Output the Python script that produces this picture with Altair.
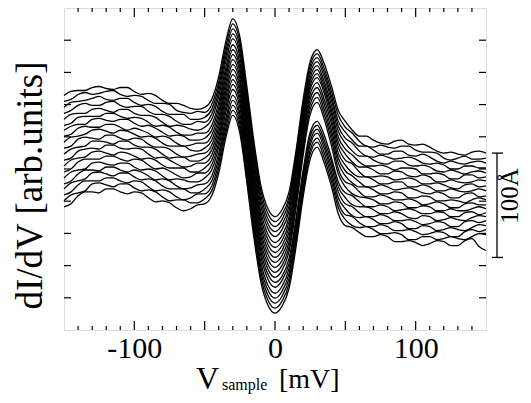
import altair as alt
import pandas as pd

v_sample = [-150, -140, -130, -120, -110, -100, -90, -80, -70, -60, -50, -45, -40, -35, -30,
            -25, -20, -15, -10, -5, 0, 5, 10, 15, 20, 25, 30, 35, 40, 45, 50,
            60, 70, 80, 90, 100, 110, 120, 130, 140, 150]

spectra = [
    [236,241,244,243,244,240,238,231,228,223,224,232,255,290,313,295,245,190,145,122,114,121,139,181,232,270,282,268,246,221,210,195,191,187,191,186,184,178,177,179,178],
    [230,237,237,240,237,236,231,228,221,218,219,227,250,285,308,290,240,185,140,117,109,116,134,177,227,266,278,263,241,216,204,190,184,184,185,181,179,173,173,172,173],
    [224,230,233,232,233,229,227,220,217,212,214,222,245,280,303,285,235,180,135,112,104,111,130,172,223,262,274,259,236,210,199,185,181,177,180,175,174,168,168,169,168],
    [218,226,226,229,226,225,220,217,210,207,209,217,240,275,298,280,230,175,130,107,99,106,125,167,219,258,270,255,232,205,193,180,174,174,173,172,167,166,162,165,163],
    [212,218,222,221,222,218,216,209,206,202,204,212,235,270,293,275,225,170,125,102,94,101,120,163,214,254,266,250,227,200,188,175,171,167,170,165,164,159,159,159,158],
    [206,214,215,218,215,214,209,206,199,196,198,206,229,264,287,269,219,164,119,96,88,95,114,158,210,250,262,246,222,194,182,169,165,164,163,162,157,156,152,156,154],
    [201,207,212,211,212,208,206,199,196,191,193,201,224,259,282,264,214,159,114,91,83,90,109,153,206,246,258,242,218,189,177,164,161,157,159,154,154,149,149,149,150],
    [195,203,204,207,204,203,198,195,188,186,188,196,219,254,277,259,209,154,109,86,78,85,104,148,201,242,254,238,213,184,171,159,154,154,152,151,147,146,142,147,145],
    [189,195,201,200,201,197,195,188,185,181,183,191,214,249,272,254,204,149,104,81,73,80,99,143,196,237,249,232,208,178,166,154,151,147,149,144,144,140,140,140,140],
    [183,192,193,196,193,193,187,184,177,175,178,186,209,244,267,249,199,144,99,76,68,75,94,138,191,232,244,227,202,173,160,149,144,144,142,141,137,137,133,138,135],
    [177,184,190,189,190,186,184,177,174,170,173,181,204,239,262,244,194,139,94,71,63,70,89,133,186,227,239,222,197,168,155,144,141,137,138,133,134,130,130,131,131],
    [171,180,183,186,183,183,177,174,167,165,168,176,199,234,257,239,189,134,89,66,58,65,84,128,181,222,234,217,192,162,149,139,134,134,131,130,127,127,123,128,126],
    [165,173,179,178,179,175,173,166,163,159,163,171,194,229,252,234,184,129,84,61,53,60,79,123,176,217,229,212,186,157,144,134,131,127,128,123,124,120,120,122,122],
    [159,169,172,175,172,172,166,163,156,154,158,166,189,224,247,229,179,124,79,56,48,54,72,113,161,199,210,196,174,149,138,129,124,124,121,120,117,118,114,119,118],
    [153,161,168,167,168,164,162,155,152,149,153,161,184,219,242,224,174,119,74,51,43,50,67,108,157,195,206,191,170,144,133,124,121,117,117,112,114,111,111,113,114],
    [147,157,161,164,161,161,155,152,145,143,147,155,178,213,236,218,168,113,68,45,37,44,62,103,153,190,202,187,165,139,127,118,114,114,110,109,107,108,104,110,110],
    [142,150,158,157,158,154,152,145,142,138,142,150,173,208,231,213,163,108,63,40,32,39,57,98,148,186,198,183,160,133,122,113,111,107,107,102,104,101,101,103,105],
    [136,146,150,153,150,150,144,141,134,133,137,145,168,203,226,208,158,103,58,35,27,34,52,93,143,181,193,178,155,128,116,108,104,104,100,99,97,98,94,101,101],
    [130,138,147,146,147,143,141,134,131,128,132,140,163,198,221,203,153,98,53,30,22,29,47,89,139,177,189,173,150,123,111,103,101,97,96,91,94,92,92,94,96],
    [124,135,139,142,139,139,133,130,123,122,127,135,158,193,216,198,148,93,48,25,17,24,42,84,134,172,184,168,145,117,105,98,94,94,89,88,87,89,85,92,80],
]

v_mid_left = [-145, -135, -125, -115, -105, -95, -85, -75, -65, -55]
mid_left = [
    [240,241,245,242,244,237,236,228,226,222],
    [232,239,238,241,235,235,228,227,219,220],
    [229,231,235,231,233,226,225,217,217,212],
    [221,228,226,230,224,225,217,215,207,210],
    [217,218,223,219,222,216,214,205,205,201],
    [208,215,215,218,213,213,205,204,196,198],
    [205,207,213,210,212,205,203,195,195,191],
    [197,205,204,207,201,201,194,193,185,188],
    [194,197,202,198,200,194,193,185,185,180],
    [185,194,192,196,191,192,184,182,174,177],
    [182,185,190,187,190,184,182,173,174,170],
    [173,182,182,186,182,182,173,171,164,168],
    [171,174,180,176,178,172,171,163,163,159],
    [162,172,172,175,170,171,162,160,153,158],
    [159,162,169,166,168,161,160,151,151,149],
    [150,161,160,164,159,159,151,150,142,146],
    [148,152,159,155,158,151,150,142,142,138],
    [139,150,150,153,148,149,140,139,131,137],
    [136,140,148,144,147,140,139,130,131,128],
    [127,139,138,142,137,138,129,128,120,126],
]

v_mid_right = [55, 65, 75, 85, 95, 105, 115, 125, 135, 145]
mid_right = [
    [201,195,188,190,187,187,180,179,176,180],
    [198,185,186,183,185,179,178,171,175,172],
    [191,185,177,180,176,177,170,170,167,170],
    [188,175,176,172,174,168,168,162,165,163],
    [180,175,168,170,166,166,160,161,157,160],
    [176,165,166,161,163,157,158,152,156,153],
    [169,164,157,160,155,156,149,151,148,151],
    [167,154,155,151,153,147,148,143,146,144],
    [158,154,147,149,144,146,140,142,139,142],
    [155,144,146,141,143,138,139,133,137,134],
    [148,144,137,139,133,135,130,131,128,133],
    [146,134,136,131,132,126,129,123,127,126],
    [137,133,127,129,123,125,120,122,120,124],
    [135,124,126,120,122,117,119,114,118,116],
    [126,124,117,119,113,115,110,113,110,115],
    [124,114,116,110,111,106,109,104,109,108],
    [115,114,107,109,102,105,100,103,100,106],
    [114,104,106,100,101,96,99,94,99,99],
    [105,104,97,98,91,94,91,94,91,97],
    [103,94,96,89,90,85,90,85,90,84],
]

x_labels = [-100, 0, 100]
x_major_ticks = [-100, -50, 0, 50, 100]
x_minor_ticks = [-140, -130, -120, -110, -90, -80, -70, -60, -40, -30, -20, -10,
                 10, 20, 30, 40, 60, 70, 80, 90, 110, 120, 130, 140]
y_ticks = [32.4, 64.8, 97.2, 129.6, 162.0, 194.4, 226.8, 259.2, 291.6]
scale_bar_top = 178
scale_bar_bottom = 73
scale_bar_label = "100Å"

W, H = 422, 322
SERIF = "Liberation Serif"

rows = []
for i in range(len(spectra)):
    pts = list(zip(v_sample, spectra[i])) + list(zip(v_mid_left, mid_left[i])) + \
        list(zip(v_mid_right, mid_right[i]))
    for v, val in sorted(pts):
        rows.append({"curve": i, "V": v, "dIdV": val})
df = pd.DataFrame(rows)

xscale = alt.Scale(domain=[-150, 150], nice=False, zero=False)
yscale = alt.Scale(domain=[0, 324], nice=False, zero=False)

x_axis = alt.Axis(values=x_labels, ticks=False, domain=False, grid=False,
                  labelFontSize=30, labelFont=SERIF, labelColor="black",
                  labelPadding=3, labelExpr="'' + datum.value", title=None)
y_axis = alt.Axis(ticks=False, labels=False, domain=False, grid=False,
                  title="dI/dV [arb.units]", titleFont=SERIF, titleFontSize=37,
                  titleFontWeight="normal", titleColor="black",
                  titleX=-34, titleY=177, titleAngle=270,
                  titleAlign="center", titleBaseline="middle")

lines = alt.Chart(df).mark_line(color="black", strokeWidth=1.3, interpolate="monotone").encode(
    x=alt.X("V:Q", scale=xscale, axis=x_axis),
    y=alt.Y("dIdV:Q", scale=yscale, axis=y_axis),
    detail="curve:N",
    order="V:Q",
)

major_df = pd.DataFrame({"V": x_major_ticks})
minor_df = pd.DataFrame({"V": x_minor_ticks})
yt_df = pd.DataFrame({"dIdV": y_ticks})

def xrule(d, y1, y2):
    return alt.Chart(d).mark_rule(color="black", strokeWidth=1.2).encode(
        x=alt.X("V:Q", scale=xscale, axis=x_axis),
        y=alt.value(y1), y2=alt.value(y2))

def yrule(x1, x2):
    return alt.Chart(yt_df).mark_rule(color="black", strokeWidth=1.2).encode(
        y=alt.Y("dIdV:Q", scale=yscale, axis=y_axis),
        x=alt.value(x1), x2=alt.value(x2))

ticks = [
    xrule(major_df, H, H - 9), xrule(minor_df, H, H - 4),
    xrule(major_df, 0, 9), xrule(minor_df, 0, 4),
    yrule(0, 7), yrule(W - 7, W),
]

bar_df = pd.DataFrame({"dIdV": [scale_bar_top], "dIdV2": [scale_bar_bottom]})
bar = alt.Chart(bar_df).mark_rule(color="black", strokeWidth=1.3).encode(
    y=alt.Y("dIdV:Q", scale=yscale, axis=y_axis), y2="dIdV2:Q", x=alt.value(W + 11))
caps_df = pd.DataFrame({"dIdV": [scale_bar_top, scale_bar_bottom]})
caps = alt.Chart(caps_df).mark_rule(color="black", strokeWidth=1.3).encode(
    y=alt.Y("dIdV:Q", scale=yscale, axis=y_axis), x=alt.value(W + 6), x2=alt.value(W + 17))
bar_text = alt.Chart(bar_df).mark_text(angle=270, font=SERIF, fontSize=25, color="black",
                                      align="center", baseline="alphabetic").encode(
    x=alt.value(W + 32), y=alt.value(188), text=alt.value(scale_bar_label))

def label(txt, x, y, size):
    return alt.Chart(bar_df).mark_text(font=SERIF, fontSize=size, color="black",
                                      align="left", baseline="alphabetic").encode(
        x=alt.value(x), y=alt.value(y), text=alt.value(txt))

xtitle = [label("V", 132, 381, 32), label("sample", 158, 382, 16), label("[mV]", 215, 380, 28)]

chart = alt.layer(lines, *ticks, bar, caps, bar_text, *xtitle).properties(
    width=W, height=H,
    autosize=alt.AutoSizeParams(type="none"),
    padding={"left": 56, "top": 0, "right": 37, "bottom": 65},
).configure_view(stroke="black", strokeWidth=1.5).configure(background="white")

chart.save("out.html", embed_options={"renderer": "svg", "actions": False})
